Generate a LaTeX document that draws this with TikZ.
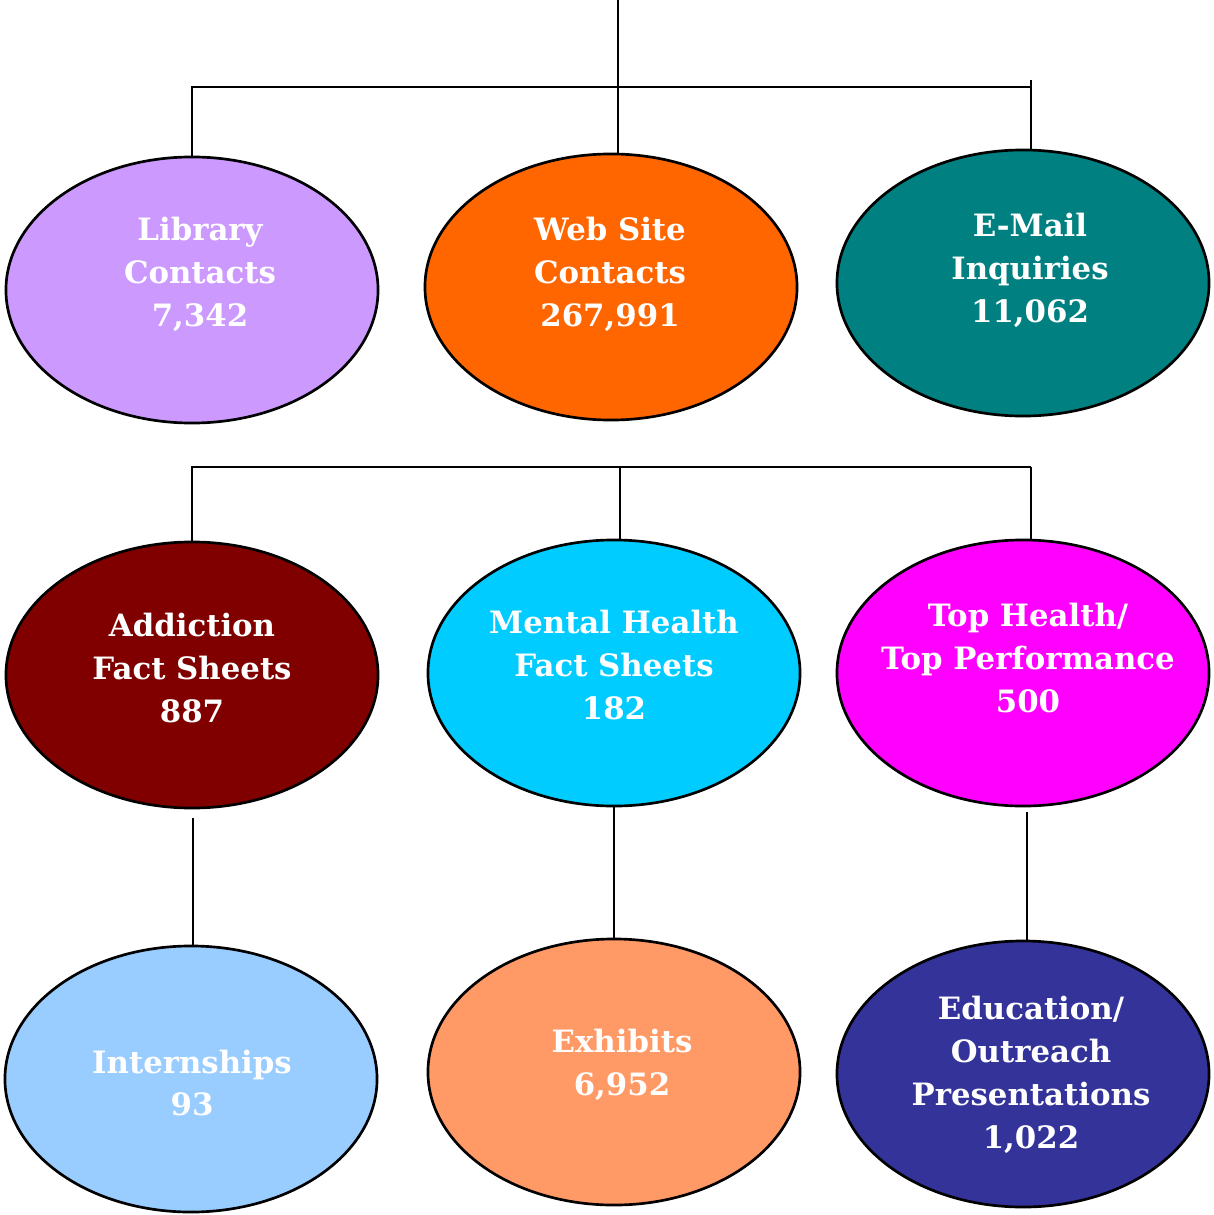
\documentclass[tikz,border=0pt]{standalone}
\usepackage{fontspec}
\setmainfont{DejaVu Serif}
\usetikzlibrary{shapes.geometric}

\definecolor{lilac}{HTML}{CC99FF}
\definecolor{webor}{HTML}{FF6600}
\definecolor{teal}{HTML}{008080}
\definecolor{maroon}{HTML}{800000}
\definecolor{skyblue}{HTML}{00CCFF}
\definecolor{magenta}{HTML}{FF00FF}
\definecolor{paleblue}{HTML}{99CCFF}
\definecolor{salmon}{HTML}{FF9966}
\definecolor{indigo}{HTML}{333399}

\tikzset{
	bubble/.style={ellipse, draw, line width=1.9pt, minimum width=9.3cm, minimum height=6.65cm, inner sep=0pt},
	txt/.style={text=white, align=center, font=\fontsize{21.9}{30.5}\selectfont\bfseries},
	link/.style={line width=1.9pt}
}

\begin{document}
\begin{tikzpicture}[x=0.025cm, y=-0.025cm]
		\useasboundingbox (0,0) rectangle (1213,1215);

		% First row of bubbles
		\node[bubble, fill=lilac] (lib) at (192,290) {};
		\node[bubble, fill=webor] (web) at (611,287) {};
		\node[bubble, fill=teal] (email) at (1023,283) {};
		\node[txt] (lib-t) at (200,274) {Library\\Contacts\\7,342};
		\node[txt] (web-t) at (610,274) {Web Site\\Contacts\\267,991};
		\node[txt] (email-t) at (1030,270) {E-Mail\\Inquiries\\11,062};

		% Second row of bubbles
		\node[bubble, fill=maroon] (add) at (192,675) {};
		\node[bubble, fill=skyblue] (mh) at (614,673) {};
		\node[bubble, fill=magenta] (top) at (1023,673) {};
		\node[txt] (add-t) at (192,668) {Addiction\\Fact Sheets\\887};
		\node[txt] (mh-t) at (614,665) {Mental Health\\Fact Sheets\\182};
		\node[txt] (top-t) at (1028,658) {Top Health/\\Top Performance\\500};

		% Third row of bubbles
		\node[bubble, fill=paleblue] (int) at (191,1079) {};
		\node[bubble, fill=salmon] (exh) at (614,1072) {};
		\node[bubble, fill=indigo] (edu) at (1023,1074) {};
		\node[txt] (int-t) at (192,1083) {Internships\\93};
		\node[txt] (exh-t) at (622,1065) {Exhibits\\6,952};
		\node[txt] (edu-t) at (1031,1075) {Education/\\Outreach\\Presentations\\1,022};

		% Bars and drop points
		\coordinate (root) at (618,0);
		\coordinate (bar1) at (618,87);
		\coordinate (col3) at (1031,80);
		\coordinate (bar2) at (620,467);
		\coordinate (col3b) at (1031,467);
		\coordinate (col1c) at (193,818);
		\coordinate (col3c) at (1027,812);

		% Top connectors
		\draw[link] (root) -- (root |- web.north);
		\draw[link] (lib.north) |- (bar1);
		\draw[link] (bar1) -| (col3);
		\draw[link] (col3) -- (col3 |- email.north);

		% Middle connectors
		\draw[link] (add.north) |- (bar2);
		\draw[link] (bar2) -- (col3b);
		\draw[link] (bar2) -- (bar2 |- mh.north);
		\draw[link] (col3b) -- (col3b |- top.north);

		% Bottom connectors
		\draw[link] (col1c) -- (col1c |- int.north);
		\draw[link] (mh.south) -- (exh.north);
		\draw[link] (col3c) -- (col3c |- edu.north);
	\end{tikzpicture}
\end{document}
